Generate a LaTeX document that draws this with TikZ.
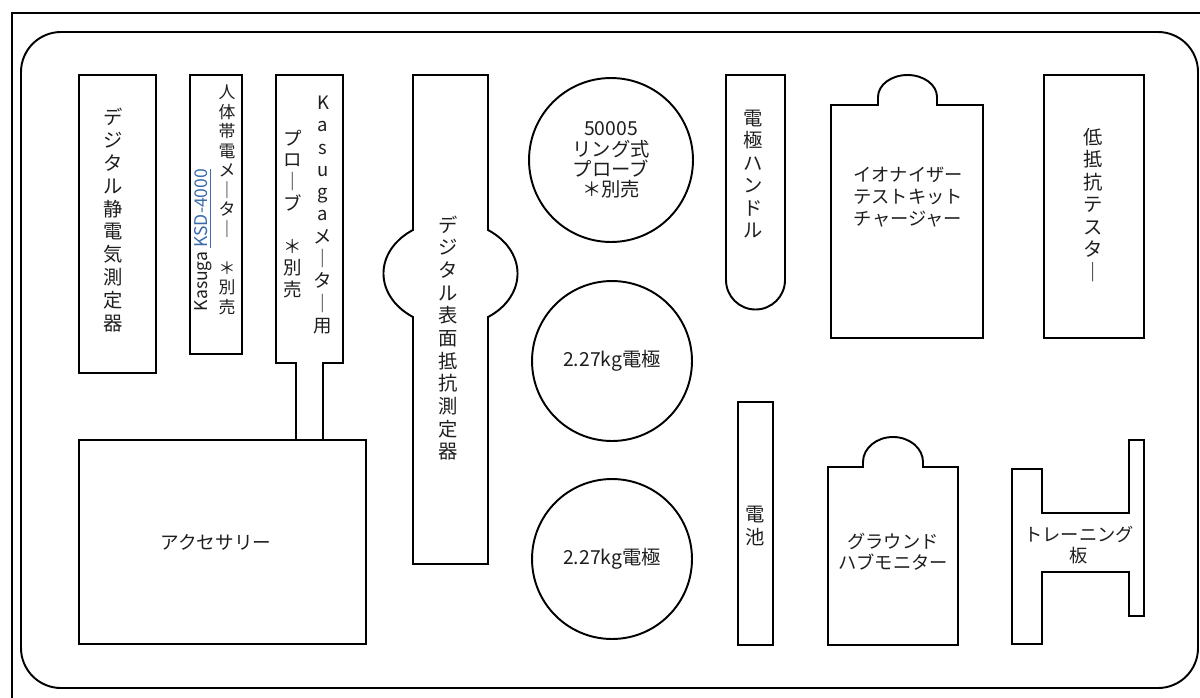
\documentclass[tikz,border=0pt]{standalone}
\usepackage{fontspec}
\setmainfont{Noto Sans CJK JP}
\definecolor{linkblue}{RGB}{58,108,170}
\definecolor{inkgray}{RGB}{30,30,30}

\begin{document}
\begin{tikzpicture}
		[x=0.02cm, y=-0.02cm,
		 part/.style={draw=black, line width=1.1pt},
		 vt/.style={align=center, inner sep=0pt, text=inkgray, font=\fontsize{11}{12.8}\selectfont},
		 ht/.style={align=center, inner sep=0pt, text=inkgray, font=\fontsize{10.4}{12.6}\selectfont},
		 disc/.style={part, circle, inner sep=0pt, minimum size=3.2cm}]

		\useasboundingbox (0,0) rectangle (1200,697);

		% frame and tray
		\draw[line width=1.1pt] (12,720) -- (12,13) -- (1220,13);
		\draw[part, rounded corners=0.8cm] (21,32) rectangle (1198,688);

		% left column
		\draw[part] (79,75) rectangle (156,373);
		\node[vt, font=\fontsize{11}{13}\selectfont] (meter) at (113,220)
			{デ\\ジ\\タ\\ル\\静\\電\\気\\測\\定\\器};

		\draw[part] (190,75) rectangle (242,354);
		\node[vt, font=\fontsize{9.6}{11.1}\selectfont] (body) at (227,200)
			{人\\体\\帯\\電\\メ\\｜\\タ\\｜\\　\\＊\\別\\売};
		\node[rotate=90, inner sep=0pt, text=inkgray, font=\fontsize{10}{12}\selectfont] (ksd) at (203,240)
			{Kasuga \textcolor{linkblue}{\underline{KSD-4000}}};

		\draw[part] (296,440) -- (296,363) -- (276,363) -- (276,75) -- (343,75)
			-- (343,363) -- (323,363) -- (323,440);
		\node[vt, font=\fontsize{10.5}{12.7}\selectfont] (kasuga) at (323,215)
			{K\\a\\s\\u\\g\\a\\メ\\｜\\タ\\｜\\用};
		\node[vt, font=\fontsize{10.5}{12.3}\selectfont] (probe) at (293,214)
			{プ\\ロ\\｜\\ブ\\　\\＊\\別\\売};

		\draw[part] (79,440) rectangle (366,644);
		\node[ht, font=\fontsize{10.6}{12.6}\selectfont] (acc) at (216,542) {アクセサリー};

		% surface resistance meter
		\draw[part] (413,75) -- (488,75) -- (488,230)
			arc[start angle=-56, end angle=56, x radius=67, y radius=52.5]
			-- (488,564) -- (413,564) -- (413,317)
			arc[start angle=124, end angle=236, x radius=67, y radius=52.5]
			-- cycle;
		\node[vt, font=\fontsize{11}{12.9}\selectfont] (surface) at (448,338)
			{デ\\ジ\\タ\\ル\\表\\面\\抵\\抗\\測\\定\\器};

		% electrodes
		\node[disc, minimum size=3.28cm, font=\fontsize{11}{11.6}\selectfont, align=center, text=inkgray] (ring) at (611,160)
			{50005\\リング式\\プローブ\\＊別売};
		\node[disc, font=\fontsize{11}{12}\selectfont, text=inkgray] (elecA) at (612,361) {2.27kg電極};
		\node[disc, font=\fontsize{11}{12}\selectfont, text=inkgray] (elecB) at (612,559) {2.27kg電極};

		% handle and battery
		\draw[part] (785,280) -- (785,75) -- (726,75) -- (726,280)
			arc[start angle=180, end angle=0, radius=29.5] -- cycle;
		\node[vt] (handle) at (753,174) {電\\極\\ハ\\ン\\ド\\ル};

		\draw[part] (738,402) rectangle (773,645);
		\node[vt] (battery) at (755,526) {電\\池};

		% ionizer kit and ground monitor
		\draw[part] (831,338) -- (831,105) -- (878,105) -- (878,97)
			arc[start angle=180, end angle=360, x radius=29.5, y radius=22]
			-- (937,105) -- (983,105) -- (983,338) -- cycle;
		\node[ht] (ionkit) at (908,197) {イオナイザー\\テストキット\\チャージャー};

		\draw[part] (828,645) -- (828,467) -- (863,467) -- (863,462)
			arc[start angle=180, end angle=360, x radius=30, y radius=25]
			-- (923,467) -- (958,467) -- (958,645) -- cycle;
		\node[ht, font=\fontsize{10.4}{12}\selectfont] (ground) at (893,552) {グラウンド\\ハブモニター};

		% right column
		\draw[part] (1044,75) rectangle (1144,338);
		\node[vt] (lowres) at (1093,205) {低\\抵\\抗\\テ\\ス\\タ\\｜};

		\draw[part] (1012,469) -- (1042,469) -- (1042,513) -- (1129,513) -- (1129,440)
			-- (1144,440) -- (1144,616) -- (1129,616) -- (1129,572) -- (1042,572)
			-- (1042,644) -- (1012,644) -- cycle;
		\node[ht, font=\fontsize{10.4}{12.4}\selectfont] (board) at (1079,545) {トレーニング\\板};

	\end{tikzpicture}
\end{document}
